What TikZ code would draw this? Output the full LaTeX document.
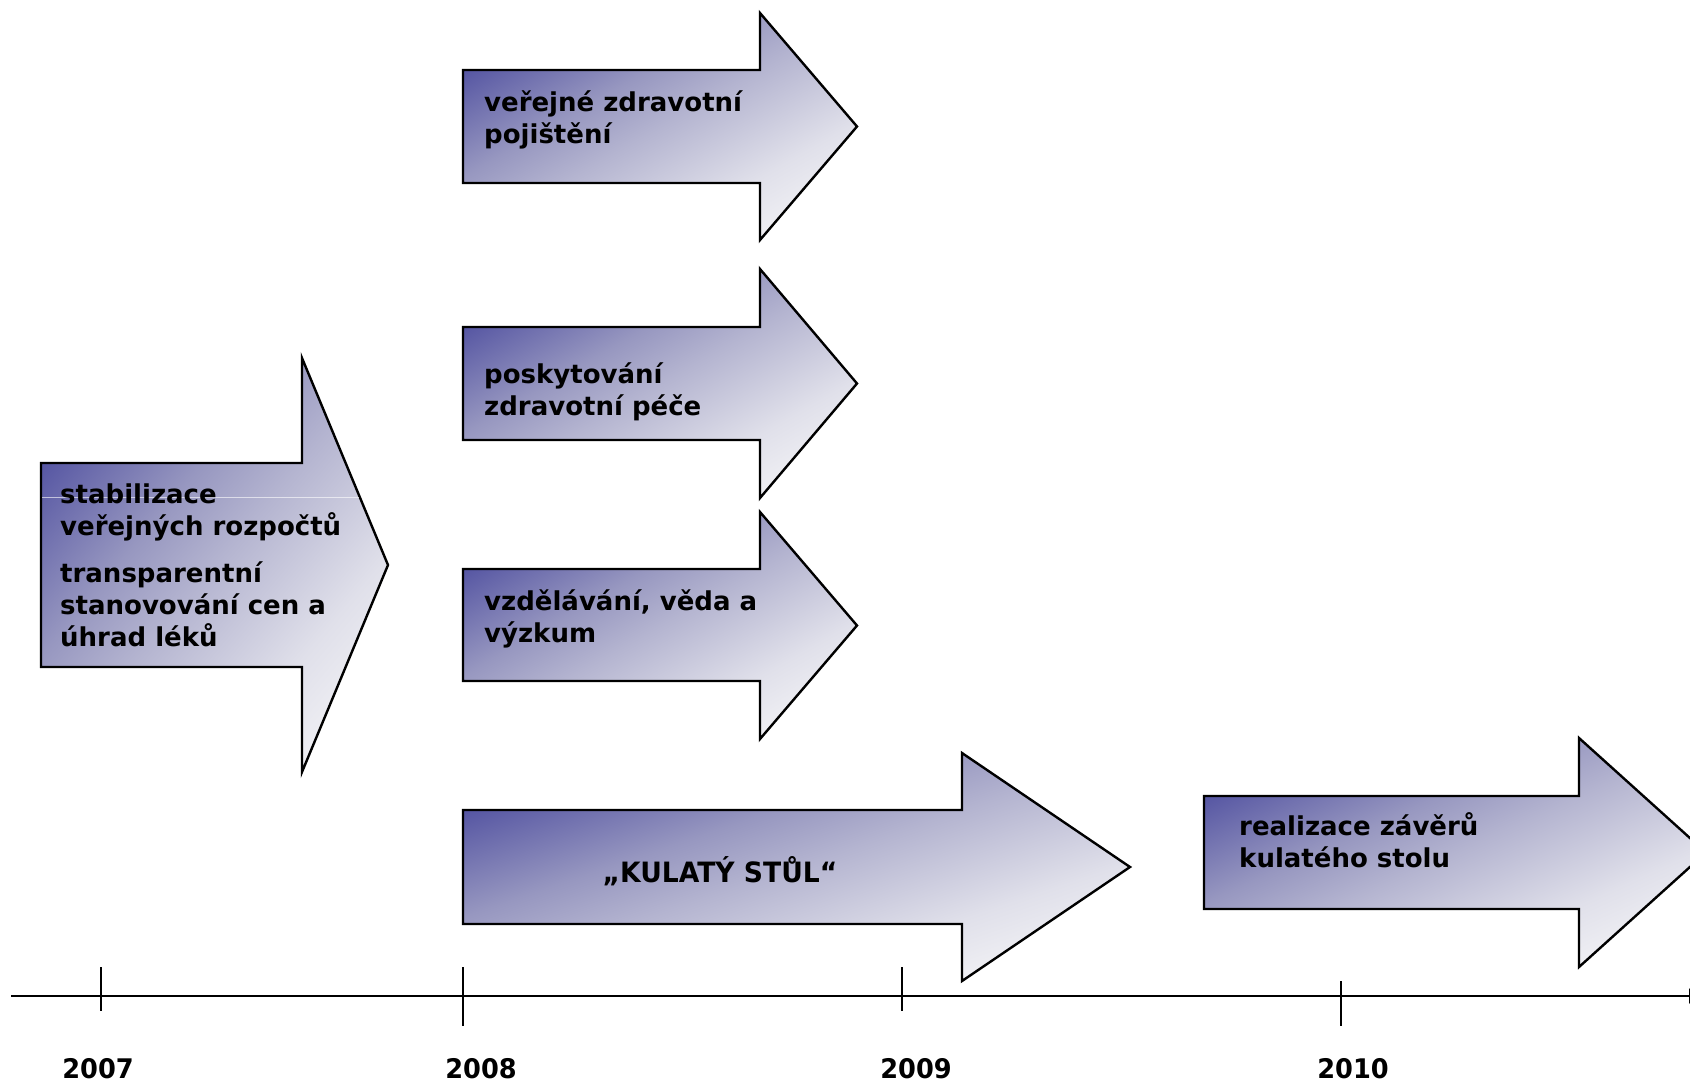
\documentclass[tikz,border=0pt]{standalone}
\usepackage{fontspec}
\setmainfont{DejaVu Sans}
\newfontfamily\narrowfont[FakeStretch=0.95]{DejaVu Sans}
\usetikzlibrary{arrows.meta}

% diagonal fill: 25bp = light corner, 75bp = dark corner
\pgfdeclareverticalshading{arrowshade}{100bp}{%
  color(0bp)=(rgb,255:red,247;green,247;blue,250);
  color(25bp)=(rgb,255:red,247;green,247;blue,250);
  color(31bp)=(rgb,255:red,240;green,240;blue,244);
  color(38bp)=(rgb,255:red,224;green,224;blue,234);
  color(50bp)=(rgb,255:red,180;green,180;blue,208);
  color(57bp)=(rgb,255:red,151;green,151;blue,192);
  color(70bp)=(rgb,255:red,78;green,78;blue,159);
  color(100bp)=(rgb,255:red,78;green,78;blue,159)}

\tikzset{
  blockarrow/.style={draw=black, line width=2.4pt, line join=miter},
  labeltext/.style={font=\fontsize{26}{32}\selectfont\bfseries,
    align=left, inner sep=0pt, anchor=base west},
  narrowtext/.style={font=\narrowfont\fontsize{27}{32}\selectfont\bfseries,
    inner sep=0pt, anchor=base},
  axisline/.style={line width=2.4pt},
}

% block arrow: left, top, bottom, shaft end, head top, head bottom, tip x
% the fill runs along the diagonal of the arrow's bounding box
\newcommand\timearrow[7]{%
  \pgfmathsetmacro\arrcx{(#1+#7)/2}%
  \pgfmathsetmacro\arrcy{(#5+#6)/2}%
  \pgfmathsetmacro\arrsx{(#7-#1)/2}%
  \pgfmathsetmacro\arrsy{(#6-#5)/2}%
  \path[blockarrow, path picture={%
      \begin{scope}[transform canvas={shift={(\arrcx,\arrcy)},
          xscale=\arrsx, yscale=\arrsy, rotate=45}]
        \shade[shading=arrowshade] (-2,-1.41421) rectangle (2,1.41421);
      \end{scope}}]
    (#1,#2) -- (#4,#2) -- (#4,#5) -- (#7,\arrcy)
    -- (#4,#6) -- (#4,#3) -- (#1,#3) -- cycle;
}

\begin{document}
\begin{tikzpicture}[x=1pt, y=-1pt]
  \useasboundingbox (0,0) rectangle (1690,1080);

  % block arrows
  \timearrow{41}{463}{667}{302}{358}{772}{388}
  \timearrow{463}{70}{183}{760}{13}{240}{857}
  \timearrow{463}{327}{440}{760}{269}{498}{857}
  \timearrow{463}{569}{681}{760}{512}{739}{857}
  \timearrow{463}{810}{924}{962}{753}{981}{1130}
  \timearrow{1204}{796}{909}{1579}{738}{967}{1706}

  % thin light rule inside the first arrow
  \draw[white, line width=1pt, opacity=0.6] (42,497) -- (359,497);

  % arrow labels (placed by the baseline of their last line)
  \node[labeltext] (budget) at (60,646)
    {stabilizace\\veřejných rozpočtů\\[15pt]transparentní\\stanovování cen a\\úhrad léků};
  \node[labeltext] (insurance) at (484,143) {veřejné zdravotní\\pojištění};
  \node[labeltext] (care) at (484,415) {poskytování\\zdravotní péče};
  \node[labeltext] (research) at (484,642) {vzdělávání, věda a\\výzkum};
  \node[narrowtext, font=\narrowfont\fontsize{28}{32}\selectfont\bfseries] (roundtable) at (720,882) {„KULATÝ STŮL“};
  \node[labeltext] (conclusions) at (1239,867) {realizace závěrů\\kulatého stolu};

  % time axis
  \coordinate (axisstart) at (11,996);
  \coordinate (axisend) at (1705,996);
  \draw[axisline, -{Latex[length=16pt, width=16pt]}] (axisstart) -- (axisend);

  \draw[axisline] (101,967) -- (101,1011);
  \draw[axisline] (463,967) -- (463,1026);
  \draw[axisline] (902,967) -- (902,1011);
  \draw[axisline] (1341,981) -- (1341,1026);

  \node[narrowtext] (y2007) at (98,1078) {2007};
  \node[narrowtext] (y2008) at (481,1078) {2008};
  \node[narrowtext] (y2009) at (916,1078) {2009};
  \node[narrowtext] (y2010) at (1353,1078) {2010};
\end{tikzpicture}
\end{document}
